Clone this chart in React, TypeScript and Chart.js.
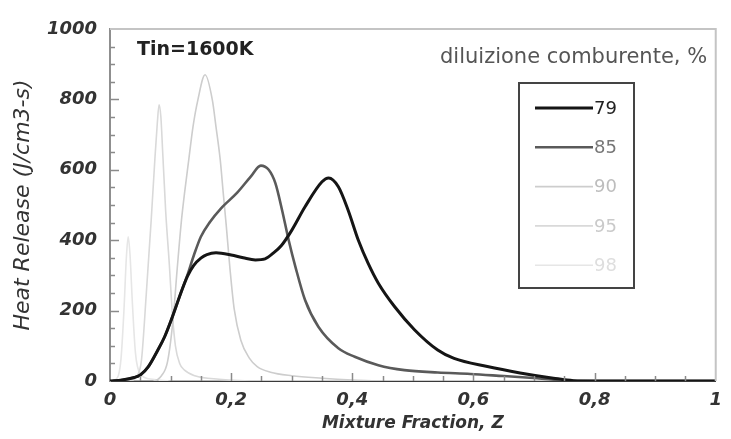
import React, { useEffect, useRef } from "react";
import { Chart, registerables } from "chart.js";

Chart.register(...registerables);

// ---- data (Mixture Fraction Z, Heat Release J/cm3-s) ----
const z79 = [0, 0.02, 0.04, 0.05, 0.063, 0.079, 0.09, 0.101, 0.118, 0.128, 0.138, 0.15, 0.16, 0.175, 0.2, 0.22, 0.24, 0.256, 0.27, 0.283, 0.3, 0.322, 0.35, 0.361, 0.377, 0.393, 0.41, 0.426, 0.443, 0.47, 0.503, 0.541, 0.568, 0.623, 0.677, 0.732, 0.765, 0.8, 1];
const hr79 = [0, 3, 10, 17, 40, 88, 125, 173, 255, 298, 328, 349, 359, 364, 358, 350, 344, 347, 364, 385, 428, 495, 566, 577, 552, 486, 400, 335, 278, 211, 145, 88, 64, 41, 23, 8, 1, 0, 0];

const z85 = [0, 0.02, 0.04, 0.05, 0.063, 0.079, 0.09, 0.101, 0.118, 0.128, 0.139, 0.15, 0.165, 0.183, 0.21, 0.232, 0.249, 0.262, 0.273, 0.284, 0.295, 0.306, 0.322, 0.344, 0.377, 0.404, 0.443, 0.486, 0.541, 0.595, 0.65, 0.705, 0.755, 0.8, 1];
const hr85 = [0, 3, 10, 17, 40, 88, 125, 173, 255, 302, 360, 410, 452, 490, 535, 580, 612, 600, 562, 486, 400, 325, 230, 154, 93, 69, 45, 31, 24, 20, 14, 8, 1, 0, 0];

const z90 = [0, 0.07, 0.085, 0.095, 0.104, 0.111, 0.118, 0.123, 0.13, 0.137, 0.145, 0.157, 0.169, 0.175, 0.182, 0.187, 0.192, 0.198, 0.205, 0.216, 0.23, 0.243, 0.265, 0.3, 0.35, 0.4, 0.45, 1];
const hr90 = [0, 0, 15, 55, 173, 320, 457, 533, 628, 722, 798, 870, 798, 722, 628, 533, 440, 320, 205, 116, 65, 41, 25, 15, 8, 3, 0, 0];

const z95 = [0, 0.03, 0.045, 0.052, 0.06, 0.068, 0.074, 0.078, 0.081, 0.084, 0.087, 0.092, 0.098, 0.103, 0.108, 0.115, 0.123, 0.14, 0.18, 0.25, 1];
const hr95 = [0, 0, 15, 60, 250, 457, 628, 730, 785, 750, 650, 480, 330, 190, 100, 50, 31, 15, 5, 0, 0];

const z98 = [0, 0.01, 0.018, 0.023, 0.027, 0.03, 0.033, 0.037, 0.042, 0.05, 0.07, 0.1, 1];
const hr98 = [0, 5, 60, 200, 350, 410, 360, 220, 80, 20, 5, 0, 0];

const seriesLabels = ["79", "85", "90", "95", "98"];
const legendTitle = "diluizione comburente, %";
const annotation = "Tin=1600K";
const xTitle = "Mixture Fraction, Z";
const yTitle = "Heat Release (J/cm3-s)";

const lineColors = ["#151515", "#5a5a5a", "#cdcdcd", "#d9d9d9", "#e6e6e6"];
const lineWidths = [3, 2.6, 1.6, 1.6, 1.6];
const textColors = ["#222222", "#777777", "#bdbdbd", "#cacaca", "#dedede"];

const FONT = "'DejaVu Sans', 'Liberation Sans', sans-serif";

const zip = (xs: number[], ys: number[]) => xs.map((x, i) => ({ x, y: ys[i] }));

const decorPlugin = {
  id: "decor",
  afterDraw(chart: any) {
    const { ctx, chartArea: a, scales } = chart;
    const xs = scales.x;
    const ys = scales.y;
    ctx.save();
    // frame top and right
    ctx.strokeStyle = "#c4c4c4";
    ctx.lineWidth = 2;
    ctx.beginPath();
    ctx.moveTo(a.left, a.top);
    ctx.lineTo(a.right, a.top);
    ctx.lineTo(a.right, a.bottom);
    ctx.stroke();

    // inward ticks
    ctx.strokeStyle = "#8a8a8a";
    ctx.lineWidth = 1.5;
    for (let i = 1; i < 20; i++) {
      const v = i * 0.05;
      const px = Math.round(xs.getPixelForValue(v)) + 0.5;
      const len = i % 4 === 0 ? 8 : 5;
      ctx.beginPath();
      ctx.moveTo(px, a.bottom);
      ctx.lineTo(px, a.bottom - len);
      ctx.stroke();
    }
    for (let i = 1; i < 20; i++) {
      const v = i * 50;
      const py = Math.round(ys.getPixelForValue(v)) + 0.5;
      const len = i % 4 === 0 ? 9 : 5;
      ctx.beginPath();
      ctx.moveTo(a.left, py);
      ctx.lineTo(a.left + len, py);
      ctx.stroke();
    }

    // annotation
    ctx.fillStyle = "#222";
    ctx.font = `bold 19px ${FONT}`;
    ctx.textBaseline = "middle";
    ctx.textAlign = "left";
    ctx.fillText(annotation, a.left + 27, a.top + 21);

    // legend title
    ctx.fillStyle = "#555";
    ctx.font = `21px ${FONT}`;
    ctx.fillText(legendTitle, a.left + 330, a.top + 29);

    // legend box
    const bx = a.left + 409;
    const by = a.top + 54;
    const bw = 115;
    const bh = 205;
    ctx.strokeStyle = "#444";
    ctx.lineWidth = 2;
    ctx.strokeRect(bx, by, bw, bh);
    ctx.font = `18px ${FONT}`;
    for (let i = 0; i < seriesLabels.length; i++) {
      const yy = by + 25 + i * 39.3;
      ctx.strokeStyle = lineColors[i];
      ctx.lineWidth = lineWidths[i];
      ctx.beginPath();
      ctx.moveTo(bx + 16, yy);
      ctx.lineTo(bx + 74, yy);
      ctx.stroke();
      ctx.fillStyle = textColors[i];
      ctx.fillText(seriesLabels[i], bx + 75, yy + 1);
    }
    ctx.restore();
  },
};

export default function App() {
  const ref = useRef<HTMLCanvasElement | null>(null);
  useEffect(() => {
    if (!ref.current) return;
    const datasets = [
      [z79, hr79],
      [z85, hr85],
      [z90, hr90],
      [z95, hr95],
      [z98, hr98],
    ].map(([xs, ys], i) => ({
      label: seriesLabels[i],
      data: zip(xs as number[], ys as number[]),
      borderColor: lineColors[i],
      borderWidth: lineWidths[i],
      pointRadius: 0,
      fill: false,
      cubicInterpolationMode: "monotone" as const,
    }));
    const chart = new Chart(ref.current, {
      type: "line",
      data: { datasets },
      options: {
        animation: false,
        responsive: false,
        layout: { padding: { top: 29, right: 7, left: 0, bottom: 0 } },
        plugins: { legend: { display: false }, tooltip: { enabled: false } },
        scales: {
          x: {
            type: "linear",
            min: 0,
            max: 1,
            grid: { display: false, drawTicks: false },
            border: { display: true, color: "#3a3a3a", width: 2 },
            ticks: {
              stepSize: 0.2,
              padding: 9,
              color: "#333",
              font: { family: FONT, size: 18, style: "italic", weight: "bold" },
              callback: (v: any) => {
                const r = Math.round(Number(v) * 10) / 10;
                return String(r).replace(".", ",");
              },
            },
            title: {
              display: true,
              text: xTitle,
              color: "#333",
              font: { family: FONT, size: 17, style: "italic", weight: "bold" },
              padding: { top: 0, bottom: 5 },
            },
            afterFit: (s: any) => {
              s.height = 58;
            },
          },
          y: {
            type: "linear",
            min: 0,
            max: 1000,
            grid: { display: false, drawTicks: false },
            border: { display: true, color: "#8f8f8f", width: 2 },
            ticks: {
              stepSize: 200,
              padding: 13,
              color: "#333",
              font: { family: FONT, size: 18, style: "italic", weight: "bold" },
              callback: (v: any) => String(Math.round(Number(v))),
            },
            title: {
              display: true,
              text: yTitle,
              color: "#333",
              font: { family: FONT, size: 22, style: "italic" },
              padding: { top: 10, bottom: 0 },
            },
            afterFit: (s: any) => {
              s.width = 110;
            },
          },
        },
      },
      plugins: [decorPlugin],
    });
    return () => chart.destroy();
  }, []);
  return (
    <div style={{ position: "absolute", left: 0, top: 0, width: 731, height: 439, background: "#fff" }}>
      <canvas ref={ref} width={731} height={439} />
    </div>
  );
}
